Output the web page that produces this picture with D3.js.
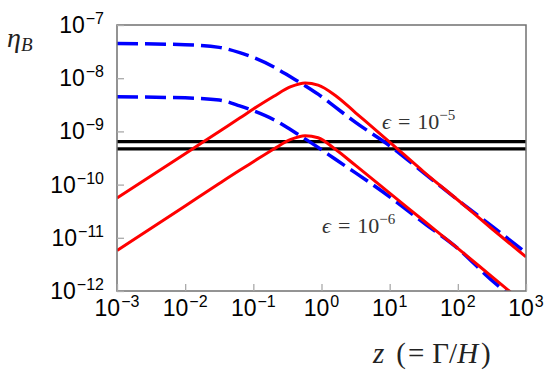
<!DOCTYPE html>
<html>
<head>
<meta charset="utf-8">
<script src="https://cdn.jsdelivr.net/npm/d3@7"></script>
<style>
  body { margin: 0; background: #fff; }
  svg { display: block; }
</style>
</head>
<body>
<div id="chart"></div>
<script>
// z grid shared by all curves
const zValues = [1e-3, 1e-2, 0.0316, 0.0631, 0.1, 0.2, 0.355, 0.575, 0.891, 1.58, 3.16, 10, 31.6, 100, 316, 1000];

// eta_B, eps = 1e-5
const redHigh = [5.62e-11, 3.80e-10, 1.0e-9, 1.78e-9, 2.63e-9, 4.57e-9, 6.92e-9, 8.13e-9, 7.41e-9, 4.79e-9, 2.24e-9, 6.31e-10, 1.74e-10, 5.13e-11, 1.48e-11, 4.37e-12];
const blueHigh = [4.47e-8, 4.27e-8, 3.80e-8, 3.02e-8, 2.45e-8, 1.62e-8, 1.05e-8, 7.24e-9, 5.01e-9, 2.88e-9, 1.48e-9, 5.37e-10, 1.66e-10, 5.13e-11, 1.66e-11, 5.25e-12];

// eta_B, eps = 1e-6
const redLow = [5.75e-12, 3.98e-11, 1.05e-10, 1.86e-10, 2.69e-10, 4.68e-10, 7.08e-10, 8.32e-10, 7.59e-10, 4.68e-10, 2.29e-10, 6.92e-11, 2.09e-11, 6.31e-12, 1.86e-12, 5.50e-13];
const blueLow = [4.47e-9, 4.27e-9, 3.89e-9, 3.02e-9, 2.45e-9, 1.66e-9, 1.07e-9, 7.24e-10, 5.01e-10, 3.02e-10, 1.66e-10, 5.89e-11, 1.91e-11, 6.31e-12, 1.58e-12, 5.01e-13];

// observed band
const observed = [6.4e-10, 4.7e-10];

const xTicks = [1e-3, 1e-2, 1e-1, 1e0, 1e1, 1e2, 1e3];
const xTickExp = ['−3', '−2', '−1', '0', '1', '2', '3'];
const yTicks = [1e-12, 1e-11, 1e-10, 1e-9, 1e-8, 1e-7];
const yTickExp = ['−12', '−11', '−10', '−9', '−8', '−7'];

const width = 545, height = 382;
const margin = { top: 25, right: 19, bottom: 91, left: 117 };

const svg = d3.select('#chart')
  .append('svg')
  .attr('width', width)
  .attr('height', height);

const x = d3.scaleLog().domain([1e-3, 1e3]).range([margin.left, width - margin.right]);
const y = d3.scaleLog().domain([1e-12, 1e-7]).range([height - margin.bottom, margin.top]);

svg.append('defs').append('clipPath').attr('id', 'clip')
  .append('rect')
  .attr('x', margin.left).attr('y', margin.top)
  .attr('width', x.range()[1] - margin.left)
  .attr('height', y.range()[0] - margin.top);

const plot = svg.append('g').attr('clip-path', 'url(#clip)');

// black horizontal lines
plot.selectAll('.obs')
  .data(observed)
  .join('line')
  .attr('x1', x(1e-3)).attr('x2', x(1e3))
  .attr('y1', d => y(d)).attr('y2', d => y(d))
  .attr('stroke', '#000')
  .attr('stroke-width', 3.2);

const line = d3.line()
  .x(d => x(d[0]))
  .y(d => y(d[1]))
  .curve(d3.curveMonotoneX);

const toPts = arr => zValues.map((z, i) => [z, arr[i]]);

[blueHigh, blueLow].forEach(s => {
  plot.append('path')
    .attr('d', line(toPts(s)))
    .attr('fill', 'none')
    .attr('stroke', '#0000ff')
    .attr('stroke-width', 3.5)
    .attr('stroke-dasharray', '21,7');
});

[redHigh, redLow].forEach(s => {
  plot.append('path')
    .attr('d', line(toPts(s)))
    .attr('fill', 'none')
    .attr('stroke', '#ff0000')
    .attr('stroke-width', 3);
});

// frame
const x0 = margin.left, x1 = x.range()[1], y0 = margin.top, y1 = y.range()[0];
svg.append('rect')
  .attr('x', x0).attr('y', y0)
  .attr('width', x1 - x0).attr('height', y1 - y0)
  .attr('fill', 'none')
  .attr('stroke', '#707070')
  .attr('stroke-width', 1.5);

// ticks (inside)
svg.append('g')
  .attr('transform', `translate(0,${y1})`)
  .call(d3.axisBottom(x).tickValues(xTicks).tickSize(-7).tickFormat(''))
  .call(g => g.select('.domain').remove())
  .call(g => g.selectAll('line').attr('stroke', '#aaa').attr('stroke-width', 1.3));

svg.append('g')
  .attr('transform', `translate(${x0},0)`)
  .call(d3.axisLeft(y).tickValues(yTicks).tickSize(-7).tickFormat(''))
  .call(g => g.select('.domain').remove())
  .call(g => g.selectAll('line').attr('stroke', '#aaa').attr('stroke-width', 1.3));

// tick labels
const sans = "'Liberation Sans', Arial, sans-serif";

xTicks.forEach((t, i) => {
  const txt = svg.append('text')
    .attr('x', x(t))
    .attr('y', 316)
    .attr('text-anchor', 'middle')
    .style('font-family', sans)
    .style('font-size', '23px')
    .attr('fill', '#000');
  txt.append('tspan').text('10');
  txt.append('tspan').attr('dy', -9).attr('dx', 1).style('font-size', '16px').text(xTickExp[i]);
});

yTicks.forEach((t, i) => {
  const txt = svg.append('text')
    .attr('x', 104)
    .attr('y', y(t) + 8)
    .attr('text-anchor', 'end')
    .style('font-family', sans)
    .style('font-size', '23px')
    .attr('fill', '#000');
  txt.append('tspan').text('10');
  txt.append('tspan').attr('dy', -9).attr('dx', 1).style('font-size', '16px').text(yTickExp[i]);
});

// axis titles
const serif = "'Liberation Serif', 'DejaVu Serif', serif";

const yl = svg.append('text')
  .attr('x', 7).attr('y', 47)
  .style('font-family', serif)
  .style('font-size', '28px')
  .attr('fill', '#222');
yl.append('tspan').style('font-style', 'italic').text('η');
yl.append('tspan').style('font-style', 'italic').style('font-size', '19px').attr('dy', 4).text('B');

const xl = svg.append('text')
  .attr('x', 373).attr('y', 363)
  .style('font-family', serif)
  .style('font-size', '29px')
  .attr('fill', '#222');
xl.append('tspan').style('font-style', 'italic').text('z');
xl.append('tspan').attr('dx', 12).text('(');
xl.append('tspan').attr('dx', 2).text('=');
xl.append('tspan').attr('dx', 8).text('Γ/');
xl.append('tspan').style('font-style', 'italic').text('H');
xl.append('tspan').attr('dx', 3).text(')');

// curve labels
const epsLabel = (px, py, exp) => {
  const t = svg.append('text')
    .attr('x', px).attr('y', py)
    .style('font-family', serif)
    .style('font-size', '22px')
    .attr('fill', '#333');
  t.append('tspan').style('font-style', 'italic').text('ϵ');
  t.append('tspan').attr('dx', 7).text('=');
  t.append('tspan').attr('dx', 7).text('10');
  t.append('tspan').attr('dy', -9).style('font-size', '15px').text(exp);
};
epsLabel(382, 129, '−5');
epsLabel(322, 233, '−6');
</script>
</body>
</html>
